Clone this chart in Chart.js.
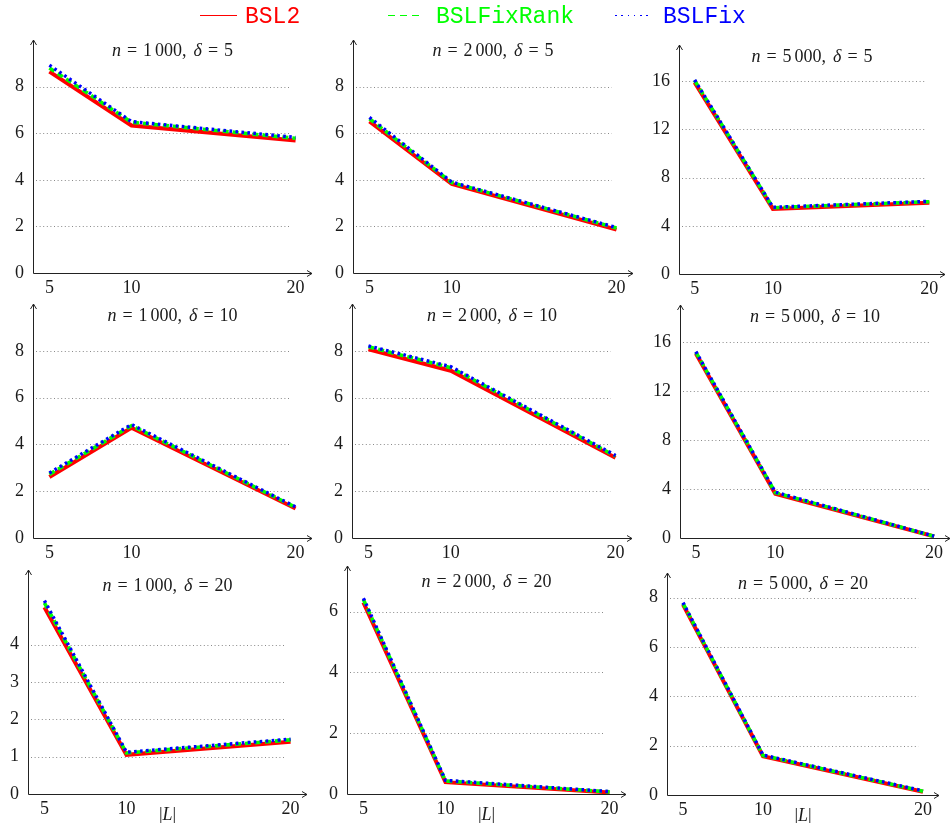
<!DOCTYPE html>
<html lang="en">
<head>
  <meta charset="UTF-8" />
  <title>BSL2 / BSLFixRank / BSLFix</title>
  <script src="https://cdn.jsdelivr.net/npm/chart.js"></script>
  <style>
    body {
      margin: 0;
      background: #fff;
      width: 950px;
      height: 823px;
      overflow: hidden;
      position: relative;
    }
    .legend {
      position: absolute;
      top: 0;
      left: 0;
      width: 950px;
      height: 32px;
      z-index: 2;
    }
    .legend .sample {
      position: absolute;
      top: 15px;
      height: 1px;
    }
    .legend span {
      position: absolute;
      top: 2px;
      font-family: 'Liberation Mono', monospace;
      font-size: 23px;
      line-height: 30px;
      white-space: pre;
    }
    canvas { position: absolute; z-index: 1; }
  </style>
</head>
<body>

  <div class="legend" id="legend">
    <div class="sample" style="left:200px;width:37px;background:#ff0000"></div>
    <div class="sample" style="left:388px;width:32px;background:repeating-linear-gradient(to right,#00ff00 0 7px,transparent 7px 12px)"></div>
    <div class="sample" style="left:615px;width:34px;background:repeating-linear-gradient(to right,#0000ff 0 1.6px,transparent 1.6px 6.3px)"></div>
  </div>

  <script>
    // ---- data ----
    const seriesNames = ['BSL2', 'BSLFixRank', 'BSLFix'];
    const xValues = [5, 10, 20];          // |L|
    const xTicks = [5, 10, 20];
    const nValues = [1000, 2000, 5000];    // columns
    const deltaValues = [5, 10, 20];       // rows

    // one row per panel, row-major (delta = 5, 10, 20; n = 1000, 2000, 5000)
    const bsl2 = [
      [8.64, 6.33, 5.69], [6.51, 3.82, 1.86], [15.9, 5.4, 5.92],
      [2.61, 4.71, 1.26], [8.06, 7.15, 3.43], [15.04, 3.6, 0.13],
      [5.0, 1.05, 1.40],  [6.3, 0.39, 0.05],  [7.72, 1.57, 0.13]
    ];
    const bslFixRank = [
      [8.8, 6.47, 5.78],  [6.62, 3.88, 1.93], [16.05, 5.5, 6.0],
      [2.72, 4.8, 1.31],  [8.17, 7.28, 3.5],  [15.15, 3.7, 0.14],
      [5.12, 1.1, 1.45],  [6.4, 0.43, 0.07],  [7.77, 1.6, 0.15]
    ];
    const bslFix = [
      [8.92, 6.5, 5.82],  [6.68, 3.9, 1.95],  [16.1, 5.54, 6.03],
      [2.78, 4.85, 1.33], [8.21, 7.32, 3.53], [15.2, 3.74, 0.15],
      [5.18, 1.12, 1.47], [6.44, 0.45, 0.08], [7.8, 1.62, 0.17]
    ];
    const yMaxes = [10, 10, 19, 10, 10, 19, 6, 7.5, 9];
    const yTicks = [
      [0, 2, 4, 6, 8], [0, 2, 4, 6, 8], [0, 4, 8, 12, 16],
      [0, 2, 4, 6, 8], [0, 2, 4, 6, 8], [0, 4, 8, 12, 16],
      [0, 1, 2, 3, 4], [0, 2, 4, 6],    [0, 2, 4, 6, 8]
    ];

    // ---- layout (page pixels): plot left, right, top, bottom, title centre y ----
    const panelBoxes = [
      [33, 312, 40, 273, 50],   [353, 633, 40, 273, 50],   [679, 945, 45, 274, 56],
      [33, 312, 304, 538, 315], [352, 632, 304, 538, 315], [680, 950, 305, 538, 316],
      [28, 307, 570, 794, 585], [347, 626, 566, 794, 581], [667, 939, 573, 795, 583]
    ];
    const padL = 44, padT = 26, padR = 12, padB = 34;
    const xMin = 4, xMax = 21, gridEndX = 19.72;

    const colors = ['#ff0000', '#00ff00', '#0000ff'];
    const widths = [4, 3.6, 3.4];
    const dashes = [[], [6, 4], [2.6, 3.4]];
    const textColor = '#1a1a1a';
    const serif = '"Liberation Serif", "Times New Roman", serif';

    // legend texts
    const legendX = [245, 436, 663];
    const legend = document.getElementById('legend');
    seriesNames.forEach((name, i) => {
      const s = document.createElement('span');
      s.textContent = name;
      s.style.left = legendX[i] + 'px';
      s.style.color = colors[i];
      legend.appendChild(s);
    });

    function drawRich(ctx, parts, cx, baseY) {
      const fontOf = p => (p.it ? 'italic ' : '') + '18px ' + serif;
      let w = 0;
      parts.forEach(p => {
        ctx.font = fontOf(p);
        p.w = ctx.measureText(p.t).width;
        w += p.w + (p.g || 0);
      });
      let px = cx - w / 2;
      ctx.textAlign = 'left';
      ctx.textBaseline = 'alphabetic';
      ctx.fillStyle = textColor;
      parts.forEach(p => {
        px += p.g || 0;
        ctx.font = fontOf(p);
        ctx.fillText(p.t, px, baseY);
        px += p.w;
      });
    }

    const decor = {
      id: 'decor',
      beforeDatasetsDraw(chart, args, opts) {
        const { ctx, chartArea: a, scales: { x, y } } = chart;
        ctx.save();
        // dotted horizontal grid
        ctx.strokeStyle = '#8a8a8a';
        ctx.lineWidth = 1;
        ctx.setLineDash([1, 2.6]);
        y.ticks.forEach(t => {
          if (t.value === 0) return;
          const py = Math.round(y.getPixelForValue(t.value)) + 0.5;
          ctx.beginPath();
          ctx.moveTo(a.left + 3, py);
          ctx.lineTo(x.getPixelForValue(gridEndX), py);
          ctx.stroke();
        });
        ctx.setLineDash([]);
        // axis lines with arrow tips
        ctx.strokeStyle = '#222';
        const l = Math.round(a.left) + 0.5, b = Math.round(a.bottom) + 0.5;
        ctx.beginPath();
        ctx.moveTo(l, a.top);
        ctx.lineTo(l, b);
        ctx.lineTo(a.right, b);
        ctx.stroke();
        ctx.beginPath();
        ctx.moveTo(l - 3, a.top + 5); ctx.lineTo(l, a.top); ctx.lineTo(l + 3, a.top + 5);
        ctx.moveTo(a.right - 5, b - 3); ctx.lineTo(a.right, b); ctx.lineTo(a.right - 5, b + 3);
        ctx.stroke();
        ctx.restore();
      },
      afterDraw(chart, args, opts) {
        const { ctx, chartArea: a } = chart;
        ctx.save();
        const cx = (a.left + a.right) / 2;
        drawRich(ctx, opts.title, cx, a.top + opts.titleDy + 6);
        if (opts.xLabel) {
          drawRich(ctx, [{ t: '|' }, { t: 'L', it: true }, { t: '|' }], cx, a.bottom + 26);
        }
        ctx.restore();
      }
    };

    function titleParts(n, d) {
      const s = String(n);
      return [
        { t: 'n', it: true },
        { t: '=', g: 6 },
        { t: s.slice(0, s.length - 3), g: 6 },
        { t: s.slice(-3), g: 3 },
        { t: ',' },
        { t: 'δ', it: true, g: 7 },
        { t: '=', g: 6 },
        { t: String(d), g: 6 }
      ];
    }

    const seriesData = [bsl2, bslFixRank, bslFix];

    panelBoxes.forEach((box, p) => {
      const [left, right, top, bottom, titleY] = box;
      const row = Math.floor(p / 3), col = p % 3;
      const w = right - left + padL + padR;
      const h = bottom - top + padT + padB;
      const cv = document.createElement('canvas');
      cv.width = w; cv.height = h;
      cv.style.width = w + 'px'; cv.style.height = h + 'px';
      cv.style.left = (left - padL) + 'px';
      cv.style.top = (top - padT) + 'px';
      document.body.appendChild(cv);

      const datasets = seriesNames.map((name, i) => ({
        label: name,
        data: xValues.map((xv, k) => ({ x: xv, y: seriesData[i][p][k] })),
        borderColor: colors[i],
        backgroundColor: colors[i],
        borderWidth: widths[i],
        borderDash: dashes[i],
        borderCapStyle: 'butt',
        borderJoinStyle: 'miter',
        pointRadius: 0,
        fill: false,
        tension: 0,
        order: 3 - i
      }));

      const tickFont = { family: serif, size: 18 };

      new Chart(cv, {
        type: 'line',
        data: { datasets },
        options: {
          responsive: false,
          animation: false,
          layout: { padding: { top: padT, right: padR, left: 0, bottom: 0 } },
          plugins: {
            legend: { display: false },
            tooltip: { enabled: false },
            decor: {
              title: titleParts(nValues[col], deltaValues[row]),
              titleDy: titleY - top,
              xLabel: row === 2
            }
          },
          scales: {
            x: {
              type: 'linear',
              min: xMin,
              max: xMax,
              afterBuildTicks: s => { s.ticks = xTicks.map(v => ({ value: v })); },
              afterFit: s => { s.height = padB; },
              grid: { display: false, drawTicks: false },
              border: { display: false },
              ticks: { font: tickFont, color: textColor, padding: 4, autoSkip: false, maxRotation: 0, callback: v => v }
            },
            y: {
              min: 0,
              max: yMaxes[p],
              afterBuildTicks: s => { s.ticks = yTicks[p].map(v => ({ value: v })); },
              afterFit: s => { s.width = padL; },
              grid: { display: false, drawTicks: false },
              border: { display: false },
              ticks: { font: tickFont, color: textColor, padding: 9, autoSkip: false, callback: v => v }
            }
          }
        },
        plugins: [decor]
      });
    });
  </script>

</body>
</html>
